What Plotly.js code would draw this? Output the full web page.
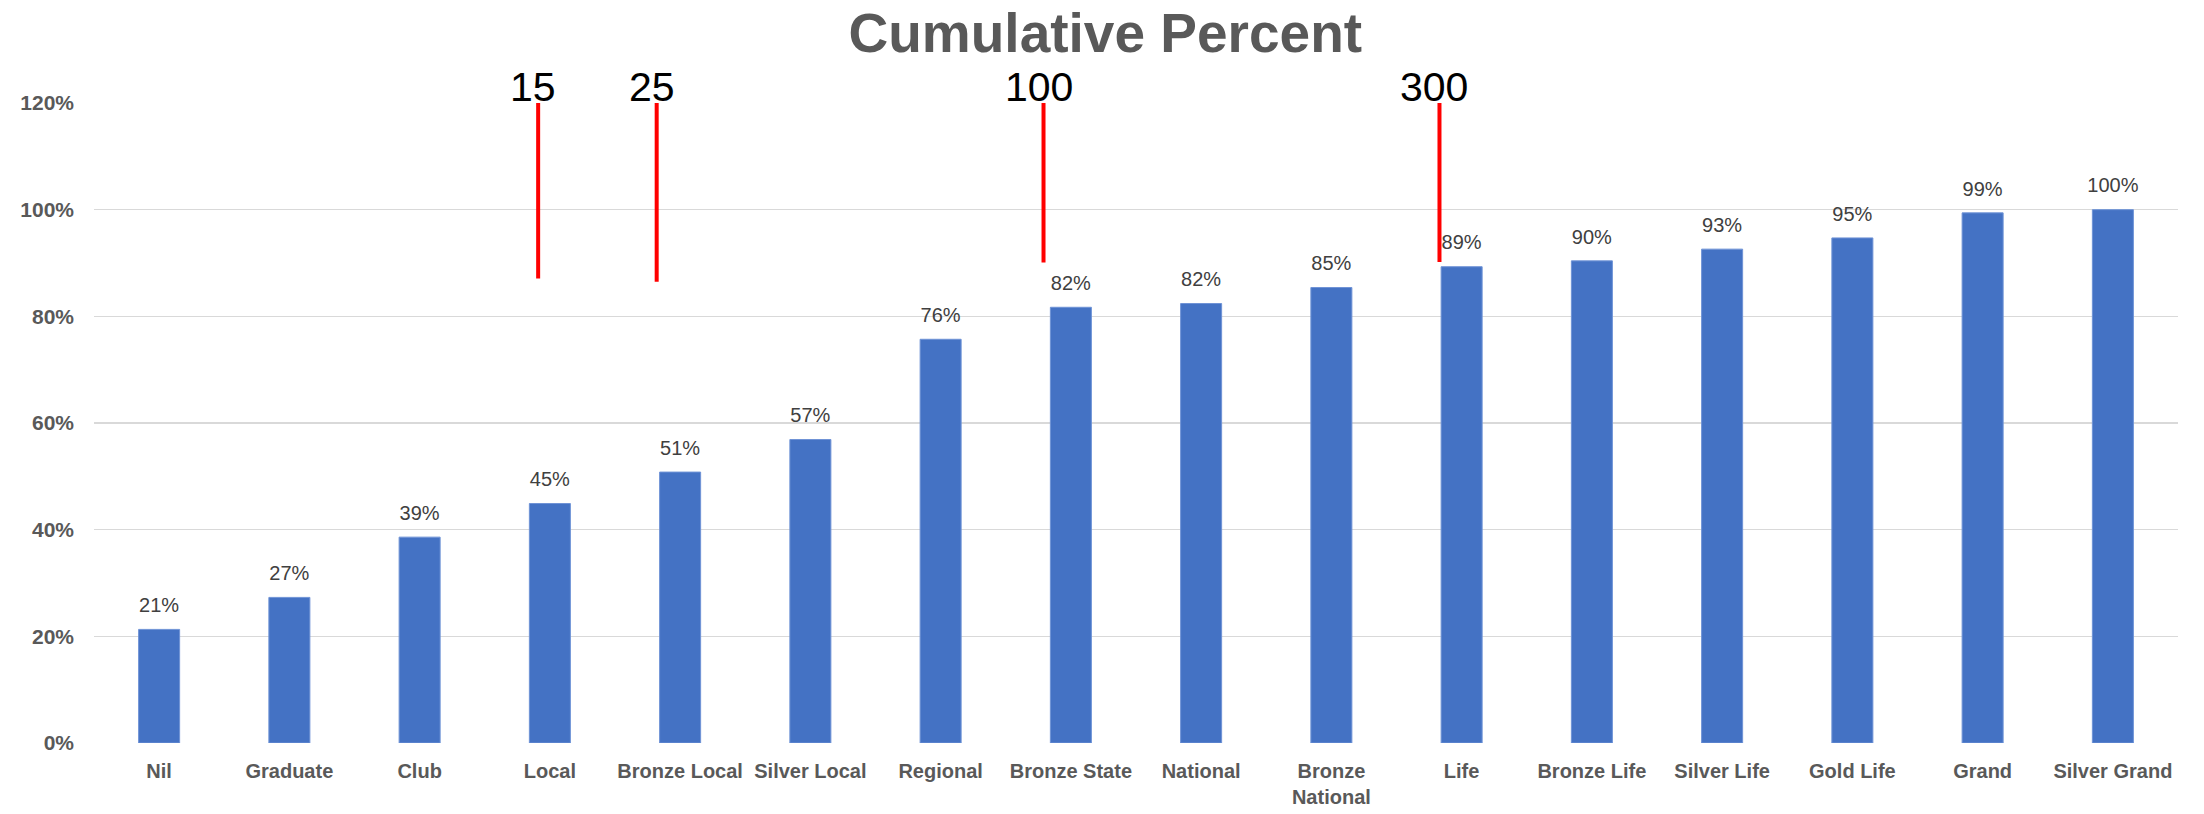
<!DOCTYPE html>
<html>
<head>
<meta charset="utf-8">
<script src="https://cdn.plot.ly/plotly-3.0.1.min.js"></script>
<style>html,body{margin:0;padding:0;background:#fff;}#chart{width:2204px;height:814px;}</style>
</head>
<body>
<div id="chart"></div>
<script>
const categories = ["Nil","Graduate","Club","Local","Bronze Local","Silver Local","Regional","Bronze State","National","Bronze National","Life","Bronze Life","Silver Life","Gold Life","Grand","Silver Grand"];
const tickLabels = ["Nil","Graduate","Club","Local","Bronze Local","Silver Local","Regional","Bronze State","National","Bronze<br>National","Life","Bronze Life","Silver Life","Gold Life","Grand","Silver Grand"];
const cumulative = [0.213,0.273,0.386,0.449,0.508,0.569,0.757,0.817,0.824,0.854,0.893,0.904,0.926,0.947,0.994,1.0];
const yTicks = [0,0.2,0.4,0.6,0.8,1.0,1.2];

// threshold markers (position on category axis, bottom of red line, label)
const markerLabels = ["15","25","100","300"];
const markerX = [2.91,3.82,6.79,9.83];
const markerBottom = [0.871,0.865,0.901,0.902];
const markerTop = 1.2;

const FONT = "'Liberation Sans', Arial, sans-serif";

const bars = {
  type: 'bar',
  x: categories,
  y: cumulative,
  marker: {color: '#4472C4', line: {color: '#6f93d6', width: 1}},
  hoverinfo: 'skip'
};
const labels = {
  type: 'scatter',
  mode: 'markers+text',
  x: categories,
  y: cumulative,
  texttemplate: '%{y:.0%}',
  textposition: 'top center',
  textfont: {family: FONT, size: 20, color: '#404040'},
  marker: {size: 18, color: 'rgba(0,0,0,0)'},
  cliponaxis: false,
  hoverinfo: 'skip',
  showlegend: false
};

const shapes = markerX.map((x, i) => ({
  type: 'line', xref: 'x', yref: 'y',
  x0: x, x1: x, y0: markerTop, y1: markerBottom[i],
  line: {color: '#FF0000', width: 4}
}));
const annotations = markerX.map((x, i) => ({
  xref: 'x', yref: 'y', x: x, y: markerTop,
  text: markerLabels[i], showarrow: false,
  xanchor: 'center', yanchor: 'bottom', xshift: -5, yshift: -9,
  font: {family: FONT, size: 41, color: '#000000'}
}));

const layout = {
  width: 2204, height: 814,
  margin: {l: 94, r: 26, t: 103, b: 71},
  paper_bgcolor: '#ffffff', plot_bgcolor: '#ffffff',
  showlegend: false,
  bargap: 0.685,
  hovermode: false,
  title: {
    text: 'Cumulative Percent',
    x: 0.5015, xanchor: 'center', y: 0.96, yanchor: 'middle',
    font: {family: FONT, size: 55, color: '#595959', weight: 'bold'}
  },
  xaxis: {
    type: 'category',
    range: [-0.5, 15.5], autorange: false, automargin: false,
    tickvals: categories, ticktext: tickLabels,
    showgrid: false, zeroline: false, showline: false,
    ticks: '', ticklabelstandoff: 14,
    tickangle: 0,
    tickfont: {family: FONT, size: 20, color: '#595959', weight: 'bold'}
  },
  yaxis: {
    range: [0, 1.2], autorange: false, automargin: false,
    tickvals: yTicks, tickformat: '.0%',
    showgrid: true, gridcolor: '#D9D9D9', gridwidth: 1.5,
    zeroline: false, showline: false, ticks: '',
    ticklabelstandoff: 19,
    tickfont: {family: FONT, size: 21, color: '#595959', weight: 'bold'}
  },
  shapes: shapes,
  annotations: annotations
};

Plotly.newPlot('chart', [bars, labels], layout, {displayModeBar: false, staticPlot: true});
</script>
</body>
</html>
